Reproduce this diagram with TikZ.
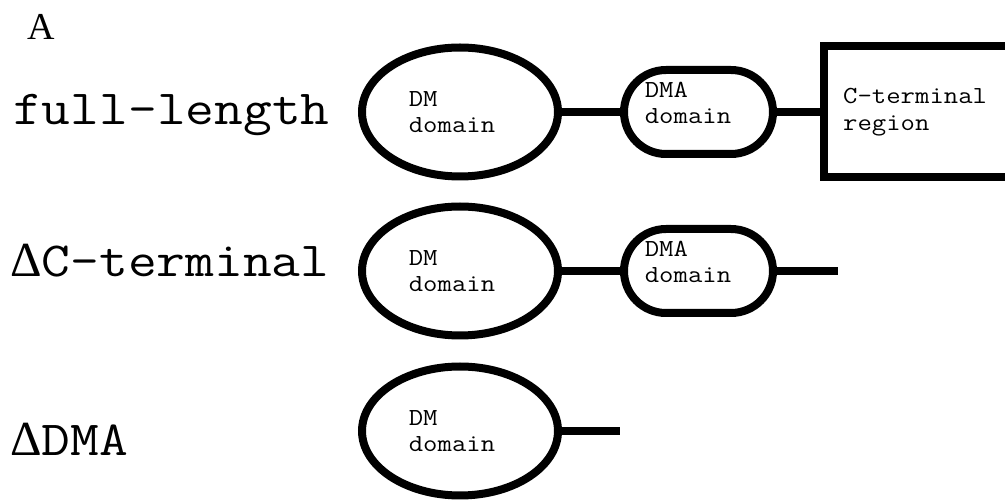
\documentclass[tikz,border=0pt]{standalone}
\usepackage{fontspec}
\setmainfont{Liberation Serif}
\setmonofont{Latin Modern Mono}[FakeStretch=1.14]
\usetikzlibrary{positioning,shapes.geometric,shapes.misc,calc}

\begin{document}
\begin{tikzpicture}[
  x=1pt,y=-1pt,
  dmb/.style={ellipse,draw,line width=8pt,minimum width=196pt,
              minimum height=129pt,inner sep=0pt},
  dmab/.style={rounded rectangle,draw,line width=8pt,minimum width=149pt,
               minimum height=84pt,inner sep=0pt},
  ctb/.style={rectangle,draw,line width=8pt,minimum width=240pt,
              minimum height=131pt,inner sep=0pt,anchor=west},
  dtxt/.style={font=\ttfamily\fontsize{24.5}{26.5}\selectfont,align=left,inner sep=0pt},
  rowlbl/.style={font=\ttfamily\fontsize{49}{49}\selectfont,anchor=base west,inner sep=0pt},
  link/.style={line width=7.5pt},
]
\useasboundingbox (0,0) rectangle (1005,502);
\clip (0,0) rectangle (1005,502);

% ---------------------------------------------------------------- labels
\node[font=\fontsize{38}{38}\selectfont,anchor=base west,inner sep=0pt] (panel) at (27,40) {A};
\node[rowlbl] (lfull) at (13,125) {full-length};
\node[rowlbl] (lcter) at (10,277) {{\rmfamily Δ}C-terminal};
\node[rowlbl] (ldma)  at (10,456) {{\rmfamily Δ}DMA};

% ---------------------------------------------------------------- full-length
\node[dmb]  (dm1)  at (460,112)   {};
\node[dmab] (dma1) at (698.5,112) {};
\node[ctb]  (ct1)  at (820,112)   {};
\node[dtxt] (dm1t)  at ([xshift=-8pt]dm1.center) {DM\\domain};
\node[dtxt] (dma1t) at ([xshift=-10.5pt,yshift=9pt]dma1.center) {DMA\\domain};
\node[dtxt,anchor=west] (ct1t) at ([xshift=23pt]ct1.west) {C-terminal\\region};

\draw[link] (dm1.east) -- (dma1.west);
\draw[link] (dma1.east) -- (ct1.west);

% ---------------------------------------------------------------- delta C-terminal
\node[dmb]  (dm2)  at (460,271)   {};
\node[dmab] (dma2) at (698.5,271) {};
\node[dtxt] (dm2t)  at ([xshift=-8pt]dm2.center) {DM\\domain};
\node[dtxt] (dma2t) at ([xshift=-10.5pt,yshift=9pt]dma2.center) {DMA\\domain};
\coordinate (end2) at (838,271);

\draw[link] (dm2.east) -- (dma2.west);
\draw[link] (dma2.east) -- (end2);

% ---------------------------------------------------------------- delta DMA
\node[dmb]  (dm3)  at (460,431) {};
\node[dtxt] (dm3t) at ([xshift=-8pt]dm3.center) {DM\\domain};
\coordinate (end3) at (620,431);

\draw[link] (dm3.east) -- (end3);

\end{tikzpicture}
\end{document}
